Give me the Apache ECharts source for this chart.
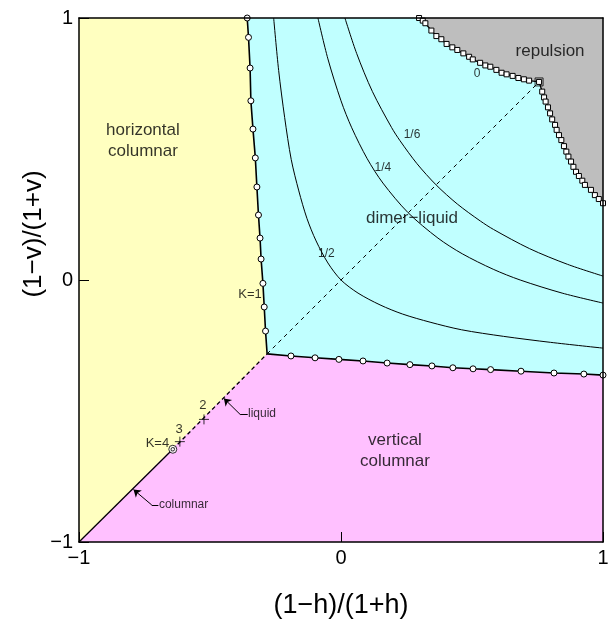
<!DOCTYPE html>
<html><head><meta charset="utf-8">
<script src="https://cdn.jsdelivr.net/npm/echarts@6/dist/echarts.min.js"></script>
<style>html,body{margin:0;padding:0;background:#fff}#c{width:613px;height:625px}</style>
</head><body><div id="c"></div>
<script>
// ---- data ----
const xTicks = [-1, 0, 1];
const yTicks = [-1, 0, 1];
const xTitle = '(1\u2212h)/(1+h)';
const yTitle = '(1\u2212v)/(1+v)';
const triplePoint = [-0.282, -0.282];
const repulsionCorner = [0.756, 0.756];
// horizontal columnar | dimer-liquid boundary (top -> triple point)
const hcolBoundary = [[-0.358,1.0],[-0.353,0.926],[-0.347,0.809],[-0.344,0.684],[-0.336,0.576],[-0.327,0.466],[-0.321,0.355],[-0.315,0.248],[-0.309,0.160],[-0.305,0.080],[-0.298,-0.013],[-0.293,-0.103],[-0.288,-0.195],[-0.282,-0.282]];
// vertical columnar | dimer-liquid boundary (triple point -> right edge)
const vcolBoundary = [[-0.282,-0.282],[-0.191,-0.290],[-0.099,-0.297],[-0.008,-0.303],[0.084,-0.309],[0.176,-0.317],[0.263,-0.323],[0.347,-0.328],[0.427,-0.335],[0.504,-0.339],[0.571,-0.342],[0.687,-0.348],[0.813,-0.355],[0.927,-0.359],[1.0,-0.363]];
// repulsion boundary (top edge -> corner -> right edge)
const repulsionBoundary = [[0.298,1.0],[0.312,0.990],[0.322,0.980],[0.345,0.952],[0.364,0.931],[0.383,0.919],[0.403,0.901],[0.425,0.888],[0.444,0.878],[0.467,0.865],[0.489,0.852],[0.503,0.842],[0.531,0.829],[0.551,0.819],[0.570,0.814],[0.593,0.802],[0.613,0.791],[0.632,0.785],[0.655,0.779],[0.677,0.771],[0.698,0.766],[0.718,0.761],[0.756,0.756],
 [0.768,0.719],[0.775,0.697],[0.781,0.681],[0.790,0.659],[0.798,0.636],[0.806,0.613],[0.817,0.592],[0.823,0.573],[0.832,0.553],[0.841,0.534],[0.851,0.511],[0.860,0.490],[0.868,0.471],[0.878,0.452],[0.887,0.432],[0.897,0.413],[0.908,0.397],[0.921,0.379],[0.931,0.363],[0.954,0.344],[0.969,0.324],[0.984,0.309],[1.0,0.293]];
// contour lines
const contourHalf = [[-0.257,1.0],[-0.238,0.80],[-0.215,0.62],[-0.19,0.46],[-0.161,0.34],[-0.13,0.235],[-0.095,0.149],[-0.05,0.065],[0.0,0.0],[0.065,-0.05],[0.149,-0.095],[0.235,-0.13],[0.34,-0.161],[0.46,-0.19],[0.62,-0.215],[0.80,-0.238],[1.0,-0.26]];
const contourQuarter = [[-0.088,1.0],[-0.05,0.844],[0.0,0.684],[0.041,0.581],[0.1,0.463],[0.16,0.370],[0.256,0.257],[0.370,0.16],[0.463,0.1],[0.581,0.041],[0.684,0.0],[0.844,-0.05],[1.0,-0.088]];
const contourSixth = [[0.015,1.0],[0.06,0.864],[0.12,0.719],[0.193,0.582],[0.225,0.532],[0.29,0.444],[0.363,0.363],[0.444,0.29],[0.532,0.225],[0.582,0.193],[0.719,0.12],[0.864,0.06],[1.0,0.015]];
// diagonal K points
const kFour = [-0.642, -0.646];
const kThree = [-0.615, -0.617];
const kTwo = [-0.523, -0.532];
const origin = [-1, -1];

// ---- build chart ----
const FONT = '"Liberation Sans", Arial, sans-serif';
const C_YEL = '#ffffc0', C_CYA = '#c0ffff', C_MAG = '#ffc0ff', C_GRY = '#bebebe';
const regions = [
  {pts: [[-1,1]].concat(hcolBoundary, [[-1,-1]]), color: C_YEL},
  {pts: [[-1,-1]].concat(vcolBoundary, [[1,-1]]), color: C_MAG},
  {pts: [hcolBoundary[0]].concat(repulsionBoundary, vcolBoundary.slice().reverse(), hcolBoundary.slice().reverse()), color: C_CYA},
  {pts: repulsionBoundary.concat([[1,1]]), color: C_GRY}
];
const minus = v => (v < 0 ? '\u2212' + Math.abs(v) : String(v));

const annotations = [
  {p:[0.798,0.874], t:'repulsion', s:17, a:'center'},
  {p:[0.271,0.237], t:'dimer\u2212liquid', s:17, a:'center'},
  {p:[-0.756,0.531], t:'horizontal\ncolumnar', s:17, a:'center'},
  {p:[0.206,-0.653], t:'vertical\ncolumnar', s:17, a:'center'},
  {p:[0.519,0.786], t:'0', s:12, a:'center'},
  {p:[0.271,0.553], t:'1/6', s:12, a:'center'},
  {p:[0.160,0.427], t:'1/4', s:12, a:'center'},
  {p:[-0.056,0.100], t:'1/2', s:12, a:'center'},
  {p:[-0.347,-0.055], t:'K=1', s:13, a:'center'},
  {p:[-0.527,-0.477], t:'2', s:13, a:'center'},
  {p:[-0.618,-0.569], t:'3', s:13, a:'center'},
  {p:[-0.656,-0.622], t:'K=4', s:13, a:'right'},
  {p:[-0.355,-0.511], t:'liquid', s:12, a:'left'},
  {p:[-0.695,-0.859], t:'columnar', s:12, a:'left'}
];

const lineBase = (data, style, extra) => Object.assign({
  type:'line', data:data, showSymbol:false, symbol:'none', silent:true, z:4,
  lineStyle:Object.assign({color:'#000', width:1}, style)
}, extra || {});

const isTriple = p => p[0] === triplePoint[0] && p[1] === triplePoint[1];
const circleItems = hcolBoundary.map(p => ({value:p, symbol: isTriple(p) ? 'none' : 'circle'}));
const circleItems2 = vcolBoundary.map(p => ({value:p, symbol: isTriple(p) ? 'none' : 'circle'}));

const option = {
  animation:false,
  backgroundColor:'#fff',
  grid:{left:79, top:18, width:524, height:524, containLabel:false},
  xAxis:[
    {type:'value', min:-1, max:1, interval:1, z:10,
     axisLine:{show:true, onZero:false, lineStyle:{color:'#000', width:1.5}},
     axisTick:{show:true, inside:true, length:10, lineStyle:{color:'#000', width:1}},
     axisLabel:{fontSize:20, color:'#000', margin:6, fontFamily:FONT, formatter:minus, customValues:xTicks},
     splitLine:{show:false},
     name:xTitle, nameLocation:'middle', nameGap:50,
     nameTextStyle:{fontSize:27, color:'#000', fontFamily:FONT}},
    {type:'value', position:'top', min:-1, max:1, interval:1, z:10,
     axisLine:{show:true, onZero:false, lineStyle:{color:'#000', width:1.5}},
     axisTick:{show:false}, axisLabel:{show:false}, splitLine:{show:false}}
  ],
  yAxis:[
    {type:'value', min:-1, max:1, interval:1, z:10,
     axisLine:{show:true, onZero:false, lineStyle:{color:'#000', width:1.5}},
     axisTick:{show:true, inside:true, length:10, lineStyle:{color:'#000', width:1}},
     axisLabel:{fontSize:20, color:'#000', margin:6, fontFamily:FONT, formatter:minus, customValues:yTicks},
     splitLine:{show:false}},
    {type:'value', position:'right', min:-1, max:1, interval:1, z:10,
     axisLine:{show:true, onZero:false, lineStyle:{color:'#000', width:1.5}},
     axisTick:{show:false}, axisLabel:{show:false}, splitLine:{show:false}}
  ],
  graphic:[{type:'text', x:34, y:234, rotation:Math.PI/2, z:100,
    style:{text:yTitle, fontSize:26, fontFamily:FONT, fill:'#000', align:'center', verticalAlign:'middle'}}],
  series:[
    {type:'custom', coordinateSystem:'cartesian2d', z:1, silent:true,
     data: regions.map((r,i) => [0, 0, i]), encode:{x:0, y:1},
     renderItem:(params, api) => {
       const r = regions[params.dataIndex];
       return {type:'polygon', shape:{points:r.pts.map(p => api.coord(p))}, style:{fill:r.color, stroke:r.color, lineWidth:0.5}};
     }},
    lineBase(contourHalf, {width:1}, {smooth:0.3}),
    lineBase(contourQuarter, {width:1}, {smooth:0.3}),
    lineBase(contourSixth, {width:1}, {smooth:0.3}),
    lineBase([triplePoint, repulsionCorner], {width:1, type:[4,4]}),
    lineBase([origin, kFour], {width:1.3}),
    lineBase([kFour, triplePoint], {width:1.3, type:[4,3]}),
    {type:'line', data:circleItems, silent:true, z:6, showSymbol:true, symbol:'circle', symbolSize:6,
     lineStyle:{color:'#000', width:1.6}, itemStyle:{color:'#fff', borderColor:'#000', borderWidth:1}},
    {type:'line', data:circleItems2, silent:true, z:6, showSymbol:true, symbol:'circle', symbolSize:6,
     lineStyle:{color:'#000', width:1.6}, itemStyle:{color:'#fff', borderColor:'#000', borderWidth:1}},
    {type:'line', data:repulsionBoundary, silent:true, z:6, showSymbol:true, symbol:'rect', symbolSize:5,
     lineStyle:{color:'#000', width:1.3}, itemStyle:{color:'#fff', borderColor:'#000', borderWidth:1}},
    {type:'scatter', data:[repulsionCorner], silent:true, z:7, symbol:'rect', symbolSize:8,
     itemStyle:{color:'none', borderColor:'#000', borderWidth:1}},
    {type:'scatter', data:[kFour], silent:true, z:7, symbol:'circle', symbolSize:8,
     itemStyle:{color:'#fff', borderColor:'#000', borderWidth:1}},
    {type:'scatter', data:[kFour], silent:true, z:8, symbol:'circle', symbolSize:3.5,
     itemStyle:{color:'#fff', borderColor:'#000', borderWidth:1}},
    {type:'scatter', data:[kThree, kTwo], silent:true, z:7, symbol:'path://M5 0 L5 10 M0 5 L10 5', symbolSize:10,
     itemStyle:{color:'none', borderColor:'#000', borderWidth:1}},
    {type:'lines', coordinateSystem:'cartesian2d', silent:true, z:7, symbol:['none','arrow'], symbolSize:7,
     lineStyle:{color:'#000', width:1, opacity:1},
     data:[{coords:[[-0.385,-0.513],[-0.447,-0.452]]}, {coords:[[-0.722,-0.859],[-0.792,-0.800]]}]},
    {type:'lines', coordinateSystem:'cartesian2d', silent:true, z:7, symbol:'none',
     lineStyle:{color:'#000', width:1, opacity:1},
     data:[{coords:[[-0.356,-0.513],[-0.385,-0.513]]}, {coords:[[-0.697,-0.859],[-0.722,-0.859]]}]},
    {type:'scatter', silent:true, z:9, symbolSize:0,
     data: annotations.map(a => ({value:a.p, name:a.t,
       label:{show:true, position:'inside', formatter:a.t, align:a.a, verticalAlign:'middle',
              fontSize:a.s, lineHeight:Math.round(a.s*1.25), color:'#000', fontFamily:FONT}}))}
  ]
};
const chart = echarts.init(document.getElementById('c'), null, {renderer:'canvas'});
chart.setOption(option);
</script>
</body></html>
